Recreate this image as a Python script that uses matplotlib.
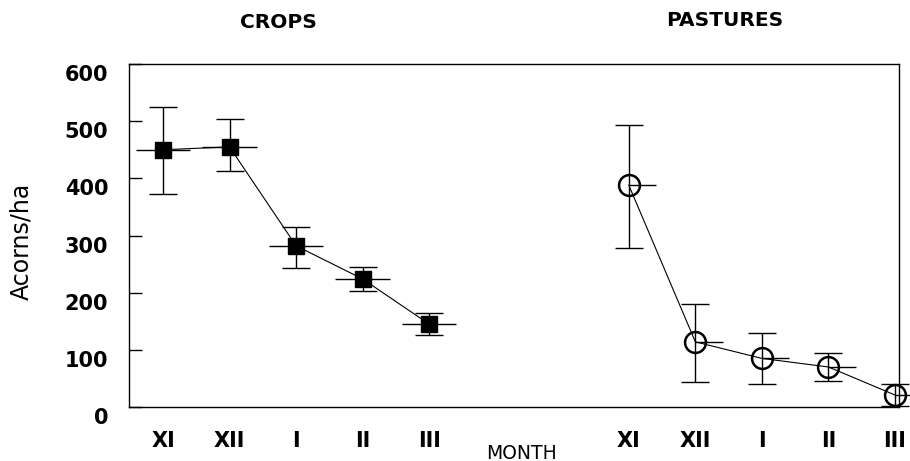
import numpy as np
import matplotlib
matplotlib.use('Agg')
import matplotlib.pyplot as plt
import matplotlib.transforms as mtransforms

# Month labels and mean acorn densities (acorns/ha)
months = ['XI', 'XII', 'I', 'II', 'III']

crops_mean = [450, 455, 282, 224, 145]
crops_low = [372, 412, 243, 203, 126]
crops_high = [525, 503, 314, 245, 164]

pastures_mean = [388, 114, 85, 70, 21]
pastures_low = [278, 44, 41, 46, 2]
pastures_high = [493, 181, 129, 94, 41]

# category slots on the x axis (two groups separated by a gap)
crops_x = np.arange(1, 6)
pastures_x = np.arange(8, 13)

HBAR = 0.41  # half width of the horizontal bars

plt.rcParams['font.family'] = 'DejaVu Sans'

fig = plt.figure(figsize=(9.10, 4.61), dpi=100)
ax = fig.add_axes([0.1418, 0.1171, 0.8461, 0.7441])

def yerr(mean, low, high):
    mean = np.array(mean)
    return [mean - np.array(low), np.array(high) - mean]

# crops: filled squares, symmetric horizontal bars
ax.errorbar(crops_x, crops_mean, yerr=yerr(crops_mean, crops_low, crops_high),
            fmt='none', ecolor='black', elinewidth=1.0,
            capsize=10, capthick=1.0)
ax.errorbar(crops_x, crops_mean, xerr=HBAR, fmt='none', ecolor='black',
            elinewidth=1.0, capsize=0)
ax.plot(crops_x, crops_mean, color='black', lw=0.8, marker='s', markersize=12,
        markerfacecolor='black', markeredgecolor='black')

# pastures: open circles, horizontal bar to the right only
ax.errorbar(pastures_x, pastures_mean,
            yerr=yerr(pastures_mean, pastures_low, pastures_high),
            fmt='none', ecolor='black', elinewidth=1.0, capsize=10,
            capthick=1.0, clip_on=False)
ax.errorbar(pastures_x, pastures_mean, xerr=[[0] * 5, [HBAR] * 5],
            fmt='none', ecolor='black', elinewidth=1.0, capsize=0,
            clip_on=False)
ax.plot(pastures_x, pastures_mean, color='black', lw=0.8, marker='o',
        markersize=15, markerfacecolor='none', markeredgecolor='black',
        markeredgewidth=1.8, clip_on=False)

ax.set_xlim(0.49, 12.06)
ax.set_ylim(0, 600)
ax.set_yticks(range(0, 601, 100))
ax.set_xticks(list(crops_x) + list(pastures_x))
ax.set_xticklabels(months + months)

ax.tick_params(axis='y', direction='in', length=9, width=1.0, pad=15,
               labelsize=15)
ax.tick_params(axis='x', length=0, pad=17, labelsize=15)
for lab in ax.get_xticklabels() + ax.get_yticklabels():
    lab.set_fontweight('bold')

# y labels sit a little below their ticks in the original
shift = mtransforms.ScaledTranslation(0, -0.09, fig.dpi_scale_trans)
for lab in ax.get_yticklabels():
    lab.set_transform(lab.get_transform() + shift)

for sp in ax.spines.values():
    sp.set_linewidth(1.0)
    sp.set_color('black')

fig.text(21 / 910, 1 - 241 / 461, 'Acorns/ha', rotation=90, ha='center',
         va='center', fontsize=17)
fig.text(521 / 910, 1 - 453 / 461, 'MONTH', ha='center', va='center',
         fontsize=13.5)
fig.text(278 / 910, 1 - 23 / 461, 'CROPS', ha='center', va='center',
         fontsize=14.5, fontweight='bold')
fig.text(725 / 910, 1 - 20 / 461, 'PASTURES', ha='center', va='center',
         fontsize=14.5, fontweight='bold')

fig.savefig('out.png', dpi=100)
